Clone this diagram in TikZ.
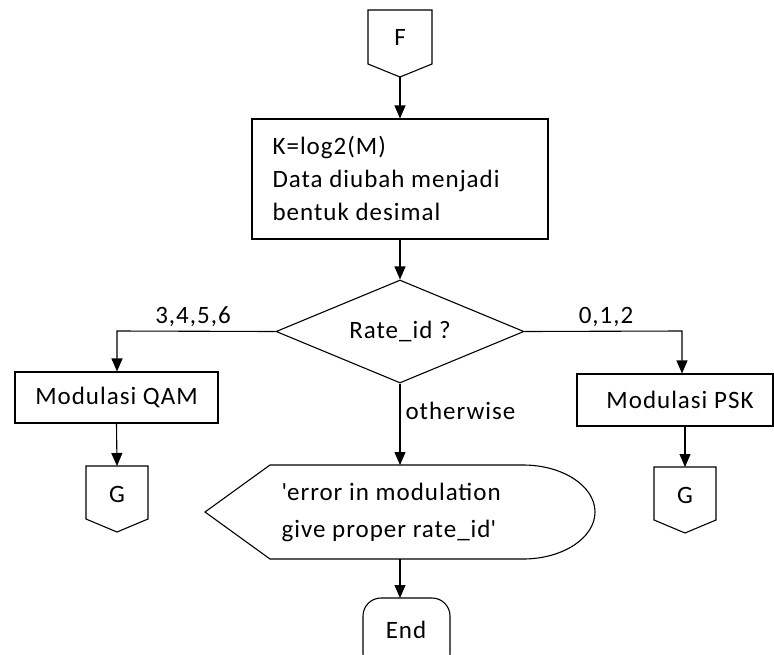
\documentclass[tikz,border=0pt]{standalone}
\usepackage{fontspec}
\setmainfont{Carlito}[LetterSpace=4]
\usetikzlibrary{arrows.meta,shapes.geometric}
\begin{document}
\begin{tikzpicture}[x=1pt,y=-1pt,
  line width=1.1pt,
  flow/.style={draw, -{Triangle[width=11pt,length=13pt]}},
  txt/.style={font=\fontsize{25}{33}\selectfont, inner sep=0pt},
  boxnode/.style={draw, rectangle, inner sep=0pt},
]
\clip (0,0) rectangle (774,654);

% off-page connector F
\draw (368,10) -- (432,10) -- (432,64) -- (400,77) -- (368,64) -- cycle;
\node[txt] (f) at (400,37) {F};
\coordinate (fout) at (400,77);

% process box
\node[boxnode, minimum width=296pt, minimum height=120pt] (calc) at (400,179) {};
\node[txt, anchor=base west] (l1) at (272,154) {K=log2(M)};
\node[txt, anchor=base west] (l2) at (272,187) {Data diubah menjadi};
\node[txt, anchor=base west] (l3) at (272,220) {bentuk desimal};

% decision
\node[draw, diamond, aspect=2.4, minimum width=248pt, minimum height=103pt,
      inner sep=0pt, txt] (dec) at (400,331.5) {Rate\_id ?};

% left branch
\node[boxnode, minimum width=203pt, minimum height=51pt] (qam) at (116.5,397.5) {};
\node[txt] (qamt) at (116.5,397.5) {Modulasi QAM};
\coordinate (lc) at (117,331);

% right branch
\node[boxnode, minimum width=196pt, minimum height=52pt] (psk) at (675,400) {};
\node[txt] (pskt) at (680,400) {Modulasi PSK};
\coordinate (rc) at (682,331);

% off-page connectors G
\draw (86,466) -- (148,466) -- (148,519) -- (117,532) -- (86,519) -- cycle;
\node[txt] (gl) at (117,494) {G};
\coordinate (glin) at (117,466);
\draw (654,467) -- (716,467) -- (716,520) -- (685,533) -- (654,520) -- cycle;
\node[txt] (gr) at (685,495) {G};
\coordinate (grin) at (685,467);

% display shape
\draw (205,512) -- (270,465) -- (523,465)
  arc[start angle=-90, end angle=90, x radius=72, y radius=47] -- (270,559) -- cycle;
\node[txt, anchor=base west] (e1) at (281,500) {\textquotesingle error in modulation};
\node[txt, anchor=base west] (e2) at (281,537) {give proper rate\_id\textquotesingle};
\coordinate (errtop) at (400,465);
\coordinate (errbot) at (400,559);

% terminator
\draw[rounded corners=18pt] (363,598) rectangle (450,672);
\node[txt] (endt) at (406,630) {End};
\coordinate (endtop) at (400,598);

% connectors
\draw[flow] (fout) -- (calc.north);
\draw[flow] (calc.south) -- (dec.north);
\draw[flow] (dec.west) -- (lc) -- (lc |- qam.north);
\draw[flow] (dec.east) -- (rc) -- (rc |- psk.north);
\draw[flow] (qam.south) -- (glin);
\draw[flow] (grin |- psk.south) -- (grin);
\draw[flow] (dec.south) -- (errtop);
\draw[flow] (errbot) -- (endtop);

% branch labels
\node[txt] (lab1) at (193,317) {3,4,5,6};
\node[txt] (lab2) at (606,317) {0,1,2};
\node[txt, anchor=west] (lab3) at (405,411) {otherwise};
\end{tikzpicture}
\end{document}
